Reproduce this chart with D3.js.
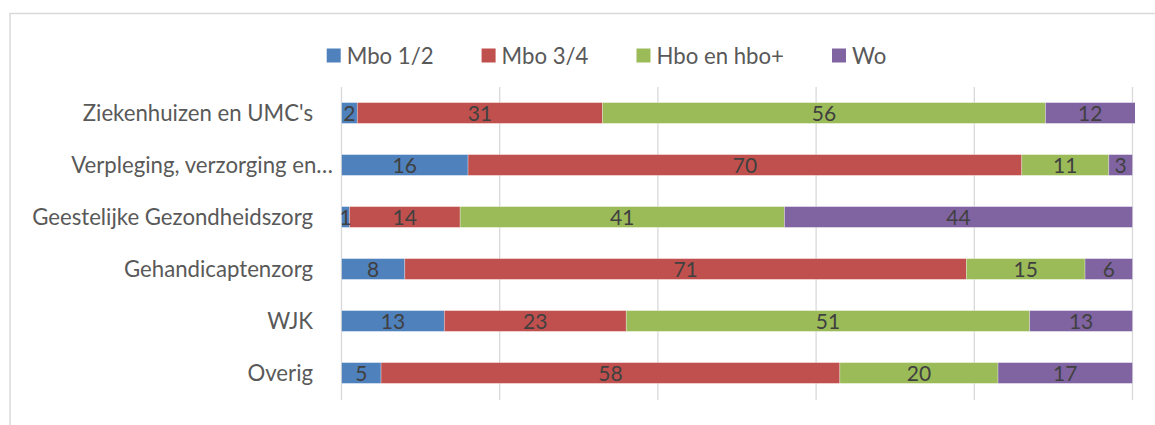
<!DOCTYPE html>
<html><head><meta charset="utf-8">
<script src="https://cdn.jsdelivr.net/npm/d3@7/dist/d3.min.js"></script>
<style>
html,body{margin:0;padding:0;background:#fff;}
svg{display:block;font-family:Lato,"Open Sans",sans-serif;}
</style></head>
<body>
<svg id="chart" width="1155" height="425"></svg>
<script>
const categories = ["Ziekenhuizen en UMC's","Verpleging, verzorging en…","Geestelijke Gezondheidszorg","Gehandicaptenzorg","WJK","Overig"];
const seriesNames = ["Mbo 1/2","Mbo 3/4","Hbo en hbo+","Wo"];
const mbo12 = [2,16,1,8,13,5];
const mbo34 = [31,70,14,71,23,58];
const hbo   = [56,11,41,15,51,20];
const wo    = [12,3,44,6,13,17];
const xTicks = [0,20,40,60,80,100];
const colors = ["#4f81bd","#c0504d","#9bbb59","#8064a2"];

const svg = d3.select("#chart");
const W = 1155, H = 425;
const catFont = 22.2, dataFont = 21, legFont = 22.2;

// frame
svg.append("path").attr("d", `M10,${H+5} L10,13.5 L${W+5},13.5`)
  .attr("fill","none").attr("stroke","#d9d9d9").attr("stroke-width",1.5);

const x = d3.scaleLinear().domain([0,100]).range([341.5,1132.5]);
const y = d3.scaleBand().domain(categories).range([87,399]).paddingInner(0.6).paddingOuter(0.3);

// gridlines
svg.append("g").selectAll("line").data(xTicks).join("line")
  .attr("x1",d=>x(d)).attr("x2",d=>x(d)).attr("y1",87).attr("y2",400)
  .attr("stroke","#d9d9d9").attr("stroke-width",1.3);

const rows = categories.map((c,i)=>({cat:c, "Mbo 1/2":mbo12[i], "Mbo 3/4":mbo34[i], "Hbo en hbo+":hbo[i], "Wo":wo[i]}));
const stack = d3.stack().keys(seriesNames)(rows);

svg.append("defs").append("clipPath").attr("id","plotclip")
  .append("rect").attr("x",x(0)).attr("y",80).attr("width",x(100)-x(0)+2.5).attr("height",330);

const gBars = svg.append("g").attr("clip-path","url(#plotclip)");
stack.forEach((s,si)=>{
  gBars.append("g").selectAll("rect").data(s).join("rect")
    .attr("x",d=>x(d[0])).attr("width",d=>x(d[1])-x(d[0]))
    .attr("y",d=>y(d.data.cat)).attr("height",y.bandwidth())
    .attr("fill",colors[si]).attr("stroke","#fff").attr("stroke-opacity",0.35).attr("stroke-width",0.8);
});

// data labels
const gLab = svg.append("g").attr("clip-path","url(#plotclip)");
stack.forEach((s,si)=>{
  gLab.append("g").selectAll("text").data(s).join("text")
    .attr("x",d=>(x(d[0])+x(Math.min(d[1],100.3)))/2)
    .attr("y",d=>y(d.data.cat)+y.bandwidth()/2)
    .attr("dy","0.36em").attr("text-anchor","middle")
    .attr("font-size",dataFont).attr("fill","#404040")
    .text(d=>d[1]-d[0]);
});

// category labels
svg.append("g").selectAll("text").data(categories).join("text")
  .attr("x",d=>d.endsWith("…")?333:313)
  .attr("y",d=>y(d)+y.bandwidth()/2).attr("dy","0.36em")
  .attr("text-anchor","end").attr("font-size",catFont).attr("fill","#595959")
  .text(d=>d);

// legend
const leg = svg.append("g");
let cx = 0;
const gap = 48;
seriesNames.forEach((n,i)=>{
  const g = leg.append("g");
  g.append("rect").attr("x",0).attr("y",48.5).attr("width",14).attr("height",14).attr("fill",colors[i]);
  const t = g.append("text").attr("x",20).attr("y",55.6).attr("dy","0.36em")
    .attr("font-size",legFont).attr("fill","#595959").text(n);
  const w = t.node().getComputedTextLength();
  g.attr("transform",`translate(${cx},0)`);
  cx += 20 + w + gap;
});
const legW = cx - gap;
leg.attr("transform",`translate(${606.5 - legW/2},0)`);
</script>
</body></html>
